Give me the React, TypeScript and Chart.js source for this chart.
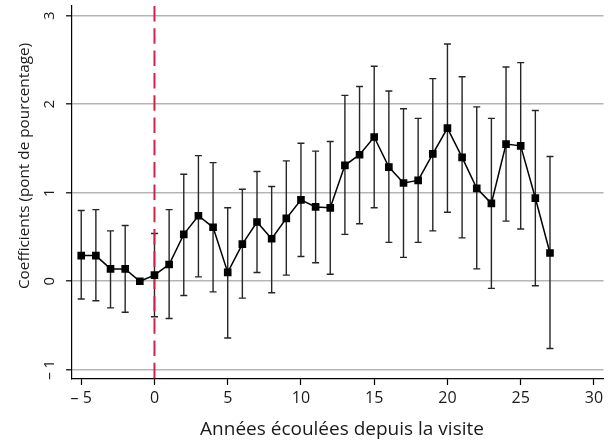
import React, { useEffect, useRef } from "react";
import { Chart, registerables } from "chart.js";
Chart.register(...registerables);

const years = [-5, -4, -3, -2, -1, 0, 1, 2, 3, 4, 5, 6, 7, 8, 9, 10, 11, 12, 13, 14, 15, 16, 17, 18, 19, 20, 21, 22, 23, 24, 25, 26, 27];
const coef = [0.29, 0.29, 0.14, 0.14, 0.0, 0.07, 0.19, 0.53, 0.74, 0.61, 0.1, 0.42, 0.67, 0.48, 0.71, 0.92, 0.84, 0.83, 1.31, 1.43, 1.63, 1.29, 1.11, 1.14, 1.44, 1.73, 1.4, 1.05, 0.88, 1.55, 1.53, 0.94, 0.32];
const lower = [-0.2, -0.22, -0.3, -0.35, 0.0, -0.4, -0.42, -0.16, 0.05, -0.12, -0.64, -0.19, 0.1, -0.13, 0.07, 0.28, 0.21, 0.08, 0.53, 0.65, 0.83, 0.44, 0.27, 0.44, 0.57, 0.78, 0.49, 0.14, -0.08, 0.68, 0.59, -0.05, -0.76];
const upper = [0.8, 0.81, 0.57, 0.63, 0.0, 0.54, 0.81, 1.21, 1.42, 1.34, 0.83, 1.04, 1.24, 1.07, 1.36, 1.56, 1.47, 1.58, 2.1, 2.2, 2.43, 2.15, 1.95, 1.84, 2.29, 2.68, 2.31, 1.97, 1.84, 2.42, 2.47, 1.93, 1.41];

const xTicks = [-5, 0, 5, 10, 15, 20, 25, 30];
const yTicks = [-1, 0, 1, 2, 3];
const eventYear = 0;
const xTitle = "Années écoulées depuis la visite";
const yTitle = "Coefficients (pont de pourcentage)";

const FONT = '"Open Sans", "Noto Sans", sans-serif';
const TEXT = "#1a1a1a";
const fmt = (v: number) => (v < 0 ? "\u2013 " + Math.abs(v) : String(v));

const overlay = {
  id: "overlay",
  beforeDatasetsDraw(chart: any) {
    const { ctx, chartArea, scales } = chart;
    const x = scales.x;
    const y = scales.y;
    ctx.save();
    ctx.strokeStyle = "#262626";
    ctx.lineWidth = 1.4;
    years.forEach((yr, i) => {
      if (upper[i] - lower[i] < 0.01) return;
      const px = x.getPixelForValue(yr);
      const pt = y.getPixelForValue(upper[i]);
      const pb = y.getPixelForValue(lower[i]);
      ctx.beginPath();
      ctx.moveTo(px, pt);
      ctx.lineTo(px, pb);
      ctx.moveTo(px - 3.5, pt);
      ctx.lineTo(px + 3.5, pt);
      ctx.moveTo(px - 3.5, pb);
      ctx.lineTo(px + 3.5, pb);
      ctx.stroke();
    });
    const vx = x.getPixelForValue(eventYear);
    ctx.strokeStyle = "#d2234a";
    ctx.lineWidth = 2;
    ctx.setLineDash([15.5, 6.8]);
    ctx.beginPath();
    ctx.moveTo(vx, chartArea.top);
    ctx.lineTo(vx, chartArea.bottom);
    ctx.stroke();
    ctx.restore();
  },
  afterDraw(chart: any) {
    const { ctx, scales } = chart;
    const x = scales.x;
    const y = scales.y;
    ctx.save();
    ctx.fillStyle = TEXT;
    ctx.font = "16px " + FONT;
    ctx.textAlign = "center";
    ctx.textBaseline = "alphabetic";
    xTicks.forEach((v) => {
      ctx.fillText(fmt(v), x.getPixelForValue(v), 403);
    });
    ctx.font = "15px " + FONT;
    yTicks.forEach((v) => {
      ctx.save();
      ctx.translate(54, y.getPixelForValue(v));
      ctx.rotate(-Math.PI / 2);
      ctx.fillText(fmt(v), 0, 0);
      ctx.restore();
    });
    ctx.font = "19px " + FONT;
    ctx.fillText(xTitle, 342, 435);
    ctx.font = "15.3px " + FONT;
    ctx.save();
    ctx.translate(29, 166);
    ctx.rotate(-Math.PI / 2);
    ctx.fillText(yTitle, 0, 0);
    ctx.restore();
    ctx.restore();
  },
};

export default function App() {
  const ref = useRef<HTMLCanvasElement>(null);
  useEffect(() => {
    document.body.style.margin = "0";
    const chart = new Chart(ref.current as HTMLCanvasElement, {
      type: "line",
      data: {
        datasets: [
          {
            data: years.map((yr, i) => ({ x: yr, y: coef[i] })),
            borderColor: "#000",
            borderWidth: 1.5,
            pointStyle: "rect",
            pointRadius: 5.4,
            pointBorderWidth: 0,
            pointBackgroundColor: "#000",
            pointBorderColor: "#000",
            tension: 0,
          },
        ],
      },
      options: {
        animation: false,
        responsive: false,
        layout: { padding: { top: 6, right: 0, left: 0, bottom: 0 } },
        plugins: { legend: { display: false }, tooltip: { enabled: false } },
        scales: {
          x: {
            type: "linear",
            min: -5.63,
            max: 30.66,
            afterBuildTicks: (s: any) => {
              s.ticks = xTicks.map((v) => ({ value: v }));
            },
            afterFit: (s: any) => {
              s.height = 64;
            },
            ticks: { display: false },
            grid: { drawOnChartArea: false, drawTicks: true, tickLength: 6, tickColor: "#000", tickWidth: 1.2 },
            border: { color: "#000", width: 1.2 },
          },
          y: {
            type: "linear",
            min: -1.104,
            max: 3.11,
            afterBuildTicks: (s: any) => {
              s.ticks = yTicks.map((v) => ({ value: v }));
            },
            afterFit: (s: any) => {
              s.width = 72;
            },
            ticks: { display: false },
            grid: { color: "#b5b5b5", lineWidth: 1.6, drawTicks: true, tickLength: 6, tickColor: "#000", tickWidth: 1.2 },
            border: { color: "#000", width: 1.2 },
          },
        },
      },
      plugins: [overlay],
    });
    return () => chart.destroy();
  }, []);
  return (
    <div style={{ width: 609, height: 443 }}>
      <canvas ref={ref} width={609} height={443} style={{ display: "block" }} />
    </div>
  );
}
